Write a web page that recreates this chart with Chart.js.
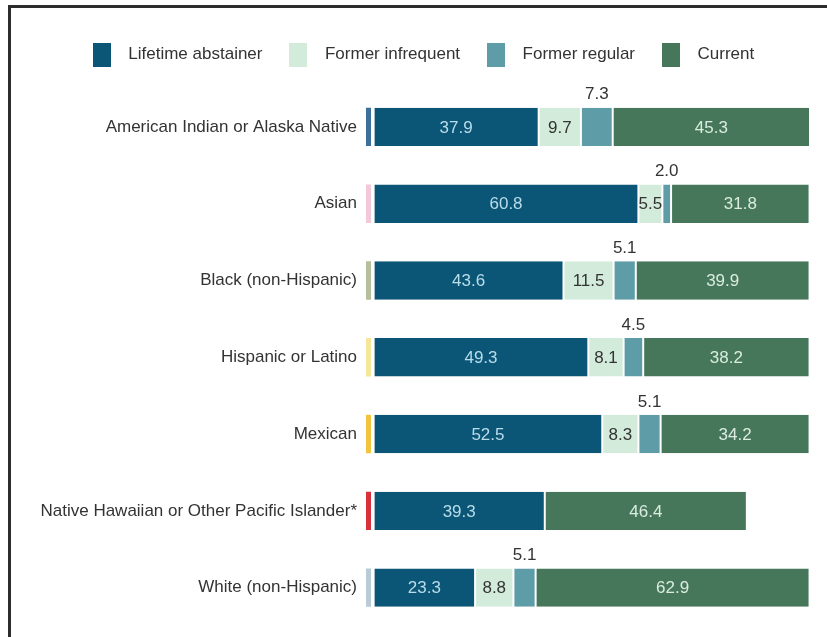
<!DOCTYPE html>
<html><head><meta charset="utf-8">
<script src="https://cdn.jsdelivr.net/npm/chart.js@4.4.1/dist/chart.umd.min.js"></script>
<style>
html,body{margin:0;padding:0;background:#fff;}
#wrap{position:relative;width:827px;height:637px;overflow:hidden;}
#frame{position:absolute;left:8px;top:5px;right:-5px;bottom:-5px;border-left:3px solid #2d2d2d;border-top:3px solid #2d2d2d;pointer-events:none;}
canvas{position:absolute;left:0;top:0;}
</style></head><body>
<div id="wrap"><canvas id="c" width="827" height="637"></canvas><div id="frame"></div></div>
<script>
const categories = [
  "American Indian or Alaska Native",
  "Asian",
  "Black (non-Hispanic)",
  "Hispanic or Latino",
  "Mexican",
  "Native Hawaiian or Other Pacific Islander*",
  "White (non-Hispanic)"
];
const seriesNames = ["Lifetime abstainer", "Former infrequent", "Former regular", "Current"];
const lifetimeAbstainer = [37.9, 60.8, 43.6, 49.3, 52.5, 39.3, 23.3];
const formerInfrequent  = [9.7, 5.5, 11.5, 8.1, 8.3, null, 8.8];
const formerRegular     = [7.3, 2.0, 5.1, 4.5, 5.1, null, 5.1];
const current           = [45.3, 31.8, 39.9, 38.2, 34.2, 46.4, 62.9];
const groupMarkerColors = ["#3d6f9b", "#f3c8d8", "#b4bf9c", "#f6e699", "#f1c43f", "#d7313b", "#b8cbd6"];

const seriesColors = ["#0b5676", "#d2ebdb", "#5e9ca8", "#46775a"];
const labelColors  = ["#b9dcea", "#333333", "#333333", "#d9ecdf"];
const FONT = "'Liberation Sans', Arial, sans-serif";
const X_MIN = -1.75, X_MAX = 100.2;

function swatch(color) {
  const c = document.createElement('canvas');
  c.width = 18; c.height = 24;
  const g = c.getContext('2d');
  g.fillStyle = color; g.fillRect(0, 0, 18, 24);
  return c;
}

const seriesData = [lifetimeAbstainer, formerInfrequent, formerRegular, current];
const mainDatasets = seriesData.map((d, k) => ({
  label: seriesNames[k],
  data: d,
  backgroundColor: seriesColors[k],
  borderColor: '#ffffff',
  borderWidth: {left: 1, right: 1, top: 0, bottom: 0},
  borderSkipped: false,
  labelColor: labelColors[k],
  labelAbove: k === 2
}));

const markerDataset = {
  label: 'marker',
  data: categories.map(() => [X_MIN, -0.6]),
  backgroundColor: groupMarkerColors,
  borderWidth: 0,
  isMarker: true
};

const valueLabels = {
  id: 'valueLabels',
  afterDatasetsDraw(chart) {
    const ctx = chart.ctx;
    ctx.save();
    ctx.font = "17px " + FONT;
    ctx.textAlign = 'center';
    ctx.textBaseline = 'middle';
    chart.data.datasets.forEach((ds, di) => {
      if (ds.isMarker) return;
      const meta = chart.getDatasetMeta(di);
      meta.data.forEach((bar, i) => {
        const v = ds.data[i];
        if (v == null) return;
        const p = bar.getProps(['x', 'y', 'base', 'height'], true);
        const cx = (p.x + p.base) / 2;
        let cy = p.y + 1;
        if (ds.labelAbove) cy = p.y - p.height / 2 - 13;
        ctx.fillStyle = ds.labelColor;
        ctx.fillText(v.toFixed(1), cx, cy);
      });
    });
    ctx.restore();
  }
};

new Chart(document.getElementById('c'), {
  type: 'bar',
  data: { labels: categories, datasets: [markerDataset, ...mainDatasets] },
  options: {
    indexAxis: 'y',
    responsive: false,
    animation: false,
    maintainAspectRatio: false,
    layout: { padding: { left: 28, right: 17, top: 28, bottom: 11 } },
    datasets: { bar: { categoryPercentage: 1, barPercentage: 0.5 } },
    scales: {
      x: {
        stacked: true, position: 'top', min: X_MIN, max: X_MAX,
        ticks: { display: false },
        grid: { display: false, drawTicks: false },
        border: { display: false },
        afterFit(s) { s.height = 15.5; }
      },
      y: {
        stacked: true,
        grid: { display: false, drawTicks: false },
        border: { display: false },
        ticks: { color: '#333333', font: { family: FONT, size: 17 }, padding: 9 },
        afterFit(s) { s.width = 338; s.paddingTop = 0; s.paddingBottom = 0; }
      }
    },
    plugins: {
      tooltip: { enabled: false },
      legend: {
        position: 'top',
        labels: {
          usePointStyle: true,
          pointStyleWidth: 36,
          padding: 18,
          color: '#333333',
          font: { family: FONT, size: 17 },
          generateLabels(chart) {
            const items = Chart.defaults.plugins.legend.labels.generateLabels(chart);
            return items.filter(it => !chart.data.datasets[it.datasetIndex].isMarker).map(it => {
              it.pointStyle = swatch(chart.data.datasets[it.datasetIndex].backgroundColor);
              return it;
            });
          }
        }
      }
    }
  },
  plugins: [valueLabels]
});
</script>
</body></html>
